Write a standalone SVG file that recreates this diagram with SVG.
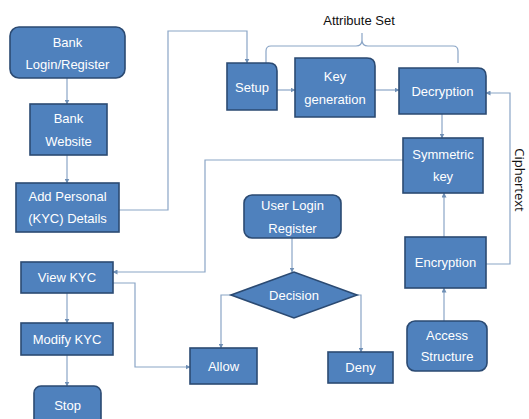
<svg xmlns="http://www.w3.org/2000/svg" width="529" height="419" viewBox="0 0 529 419">
<defs>
<style>
.n{fill:#4f81bd;stroke:#2b4a72;stroke-width:1.6}
.t{fill:#ffffff;font-family:"Liberation Sans",Arial,sans-serif;font-size:13px;text-anchor:middle}
.c{fill:none;stroke:#8aa5c6;stroke-width:1.2}
.l{fill:#111;font-family:"Liberation Sans",Arial,sans-serif;font-size:13px;text-anchor:middle}
</style>
<marker id="a" viewBox="0 0 10 10" refX="9" refY="5" markerWidth="5" markerHeight="5" orient="auto" markerUnits="userSpaceOnUse">
<path d="M0,0 L10,5 L0,10 z" fill="#6f8fb5"/>
</marker>
</defs>
<rect width="529" height="419" fill="#ffffff"/>
<g id="connectors">
<path class="c" d="M67,78 V104" marker-end="url(#a)"/>
<path class="c" d="M67,155 V183" marker-end="url(#a)"/>
<path class="c" d="M119,210 H168 V31 H247 V63" marker-end="url(#a)"/>
<path class="c" d="M277,90 H295" marker-end="url(#a)"/>
<path class="c" d="M375,90 H399" marker-end="url(#a)"/>
<path class="c" d="M442,114 V138" marker-end="url(#a)"/>
<path class="c" d="M403,160 H205 V272 H113" marker-end="url(#a)"/>
<path class="c" d="M486,264 H510 V93 H486" marker-end="url(#a)"/>
<path class="c" d="M444,237 V193" marker-end="url(#a)"/>
<path class="c" d="M444,321 V288" marker-end="url(#a)"/>
<path class="c" d="M292,238 V272" marker-end="url(#a)"/>
<path class="c" d="M231,295 H221 V348" marker-end="url(#a)"/>
<path class="c" d="M357,295 H361 V352" marker-end="url(#a)"/>
<path class="c" d="M113,283 H135 V367 H190" marker-end="url(#a)"/>
<path class="c" d="M67,293 V323" marker-end="url(#a)"/>
<path class="c" d="M67,355 V386" marker-end="url(#a)"/>
<path class="c" d="M266,63 V51 Q266,46 271,46 H356 Q362,46 362,40 V33 M362,40 Q362,46 368,46 H453 Q458,46 458,51 V63"/>
<text class="l" x="359" y="25">Attribute Set</text>
<text x="0" y="0" transform="translate(515,180) rotate(90)" style="fill:#111;font-family:'Open Sans',sans-serif;font-size:13px;text-anchor:middle">Ciphertext</text>
</g>
<g id="bank-login"><rect class="n" x="10" y="27" width="115" height="51" rx="9"/><text class="t" x="67.5" y="47">Bank</text><text class="t" x="67.5" y="69">Login/Register</text></g>
<g id="bank-website"><rect class="n" x="30" y="104" width="77" height="51"/><text class="t" x="68.5" y="123">Bank</text><text class="t" x="68.5" y="146">Website</text></g>
<g id="add-personal"><rect class="n" x="16" y="183" width="103" height="49"/><text class="t" x="67.5" y="201">Add Personal</text><text class="t" x="67.5" y="223">(KYC) Details</text></g>
<g id="view-kyc"><rect class="n" x="21" y="262" width="92" height="31"/><text class="t" x="67" y="282">View KYC</text></g>
<g id="modify-kyc"><rect class="n" x="21" y="323" width="92" height="32"/><text class="t" x="67" y="344">Modify KYC</text></g>
<g id="stop"><rect class="n" x="34" y="386" width="67" height="40" rx="7"/><text class="t" x="67.5" y="410">Stop</text></g>
<g id="setup"><path class="n" d="M227,63 H269 Q277,63 277,71 V110 H227 Z"/><text class="t" x="252" y="92">Setup</text></g>
<g id="key-generation"><path class="n" d="M295,58 H367 Q375,58 375,66 V117 H295 Z"/><text class="t" x="335" y="81">Key</text><text class="t" x="335" y="104">generation</text></g>
<g id="decryption"><path class="n" d="M399,68 H478 Q486,68 486,76 V114 H399 Z"/><text class="t" x="442.5" y="96">Decryption</text></g>
<g id="symmetric-key"><rect class="n" x="403" y="138" width="80" height="55"/><text class="t" x="443" y="159">Symmetric</text><text class="t" x="443" y="181">key</text></g>
<g id="encryption"><rect class="n" x="405" y="237" width="81" height="51"/><text class="t" x="445.5" y="267">Encryption</text></g>
<g id="access-structure"><rect class="n" x="407" y="321" width="80" height="50" rx="8"/><text class="t" x="447" y="340">Access</text><text class="t" x="447" y="361">Structure</text></g>
<g id="user-login"><rect class="n" x="244" y="195" width="97" height="43" rx="8"/><text class="t" x="292.5" y="210">User Login</text><text class="t" x="292.5" y="233">Register</text></g>
<g id="decision"><path class="n" d="M231,295 L294,272 L357,295 L294,318 Z"/><text class="t" x="294" y="300">Decision</text></g>
<g id="allow"><rect class="n" x="190" y="348" width="67" height="36"/><text class="t" x="223.5" y="371">Allow</text></g>
<g id="deny"><rect class="n" x="328" y="352" width="65" height="31"/><text class="t" x="360.5" y="372">Deny</text></g>
</svg>
